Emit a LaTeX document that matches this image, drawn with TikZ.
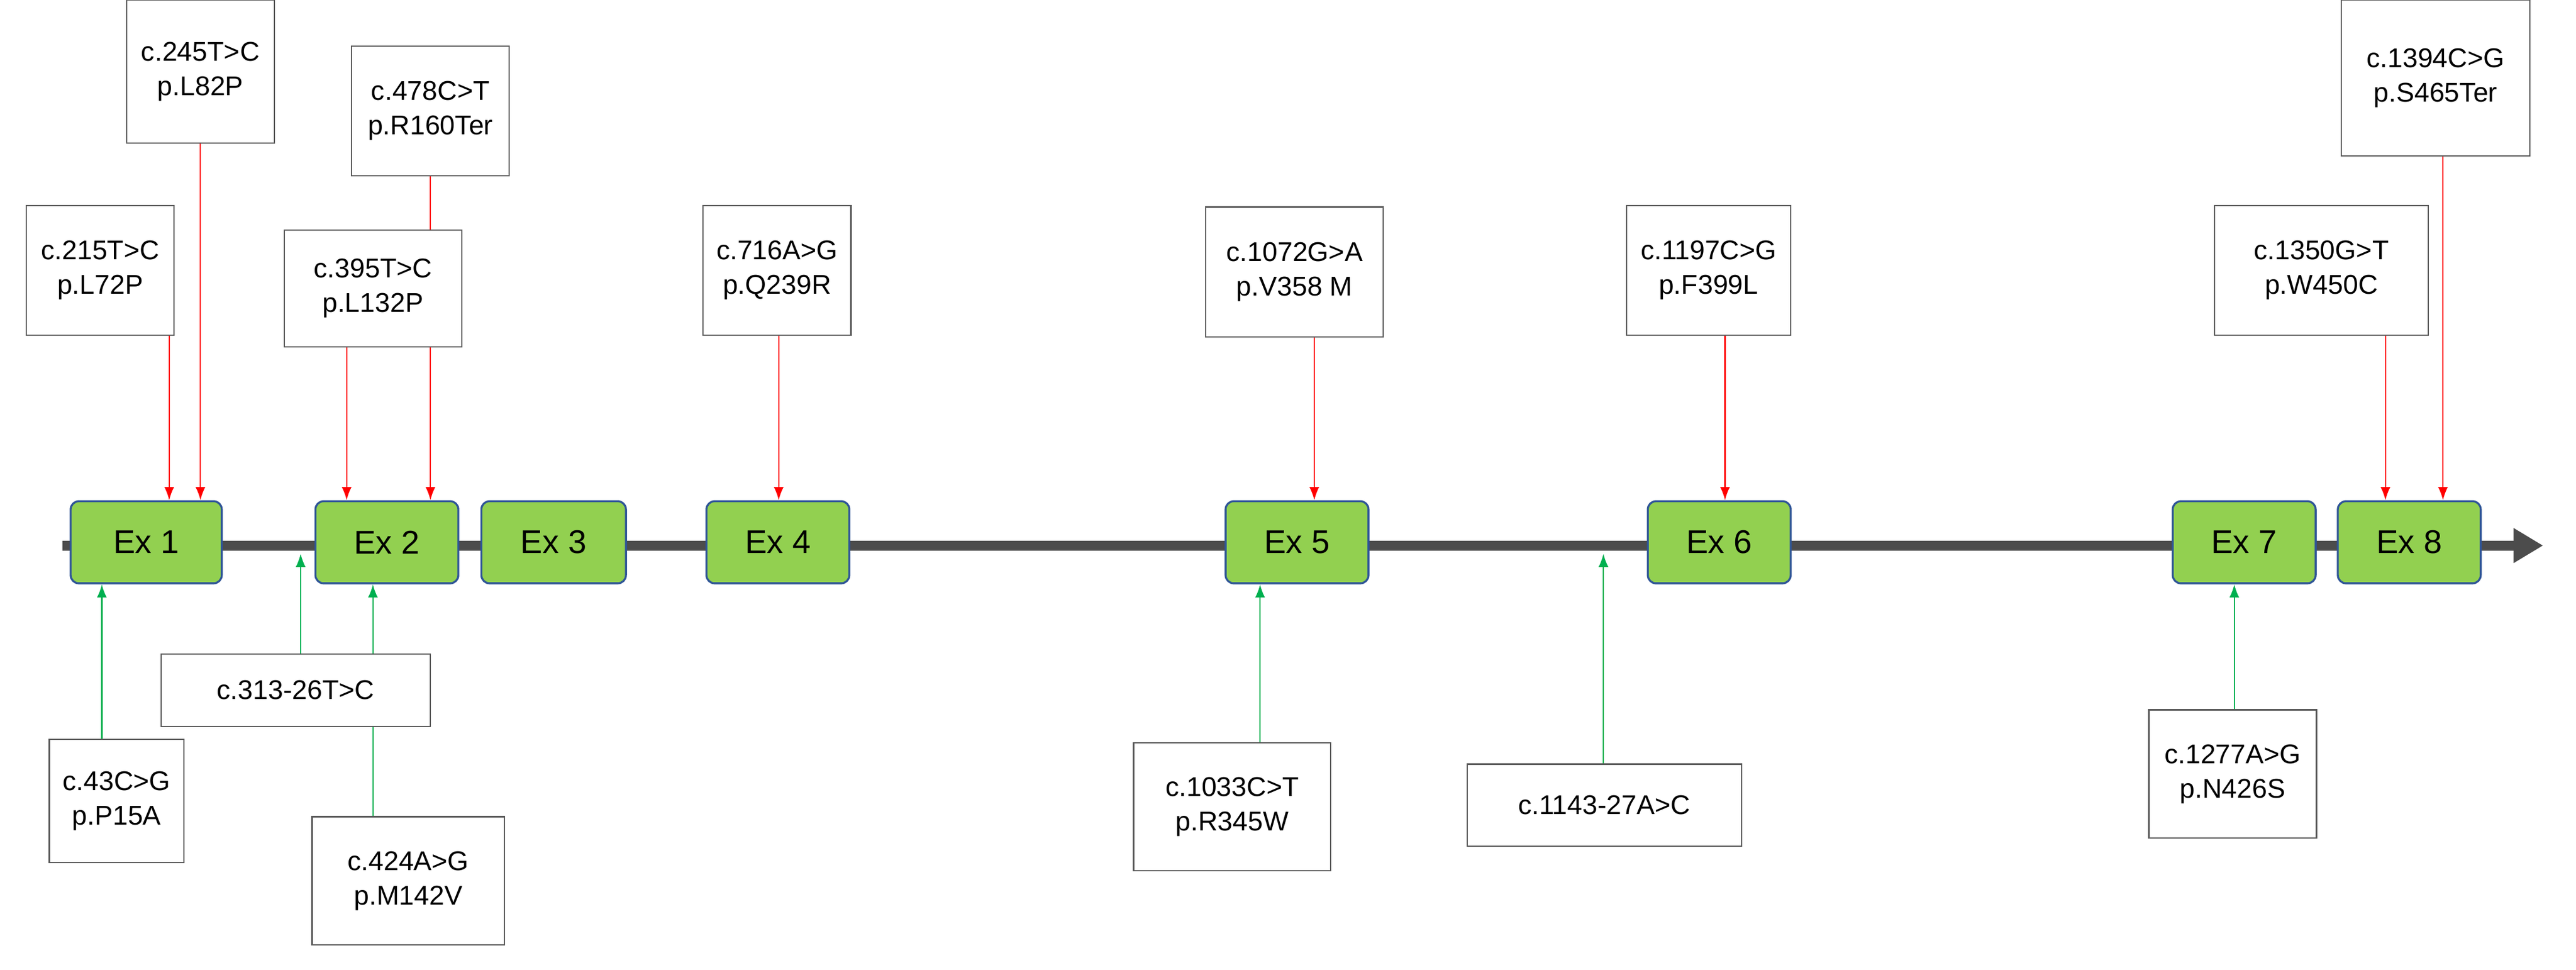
\documentclass[tikz,border=0pt]{standalone}
\usepackage{fontspec}
\setmainfont{Liberation Sans}
\usetikzlibrary{arrows.meta}
\definecolor{exg}{RGB}{146,208,80}
\definecolor{exb}{RGB}{47,85,151}
\definecolor{rl}{RGB}{255,0,0}
\definecolor{gl}{RGB}{0,176,80}
\begin{document}
\begin{tikzpicture}[x=1pt,y=-1pt,
 ex/.style={draw=exb,line width=1.2pt,fill=exg,rounded corners=5pt,minimum width=88pt,minimum height=50pt,font=\fontsize{20}{22}\selectfont,inner sep=0pt},
 lab/.style={draw=gray!70!black,line width=0.8pt,fill=white,align=center,font=\fontsize{16.5}{21}\selectfont,inner sep=0pt},
 ra/.style={draw=rl,line width=0.8pt,-{Latex[length=8pt,width=6pt]}},
 ga/.style={draw=gl,line width=0.8pt,-{Latex[length=8pt,width=6pt]}}]
\useasboundingbox (0,0) rectangle (1568,590);
\coordinate (bs) at (38,332);
\coordinate (be) at (1548,332);
\draw[line width=6pt,draw=black!70,-{Triangle[length=18pt,width=20pt]}] (bs) -- (be);
% exons
\node[ex,minimum width=92pt] (e1) at (89,330) {Ex 1};
\node[ex,minimum width=87pt] (e2) at (235.5,330) {Ex 2};
\node[ex] (e3) at (337,330) {Ex 3};
\node[ex,minimum width=87pt] (e4) at (473.5,330) {Ex 4};
\node[ex,minimum width=87pt] (e5) at (789.5,330) {Ex 5};
\node[ex,minimum width=87pt] (e6) at (1046.5,330) {Ex 6};
\node[ex,minimum width=87pt] (e7) at (1366,330) {Ex 7};
\node[ex,minimum width=87pt] (e8) at (1466.5,330) {Ex 8};
% connector start points
\coordinate (s215) at (103,204);
\coordinate (s245) at (122,87);
\coordinate (s395) at (211,211);
\coordinate (s478) at (262,107);
\coordinate (s716) at (474,204);
\coordinate (s1072) at (800,205);
\coordinate (s1197) at (1050,204);
\coordinate (s1350) at (1452,204);
\coordinate (s1394) at (1487,95);
% top arrows
\draw[ra] (s215) -- (e1.north -| s215);
\draw[ra] (s245) -- (e1.north -| s245);
\draw[ra] (s395) -- (e2.north -| s395);
\draw[ra] (s478) -- (e2.north -| s478);
\draw[ra] (s716) -- (e4.north -| s716);
\draw[ra] (s1072) -- (e5.north -| s1072);
\draw[ra] (s1197) -- (e6.north -| s1197);
\draw[ra] (s1350) -- (e8.north -| s1350);
\draw[ra] (s1394) -- (e8.north -| s1394);
% bottom arrows
\coordinate (b313) at (183,337);
\coordinate (b1143) at (976,337);
\draw[ga] (62,450) -- (e1.south -| 62,0);
\draw[ga] (183,398) -- (b313);
\draw[ga] (227,497) -- (e2.south -| 227,0);
\draw[ga] (767,452) -- (e5.south -| 767,0);
\draw[ga] (976,465) -- (b1143);
\draw[ga] (1360,432) -- (e7.south -| 1360,0);
% top boxes
\node[lab,minimum width=90pt,minimum height=87pt] (t245) at (122,43.5) {c.245T>C\\p.L82P};
\node[lab,minimum width=96pt,minimum height=79pt] (t478) at (262,67.5) {c.478C>T\\p.R160Ter};
\node[lab,minimum width=90pt,minimum height=79pt] (t215) at (61,164.5) {c.215T>C\\p.L72P};
\node[lab,minimum width=108pt,minimum height=71pt] (t395) at (227,175.5) {c.395T>C\\p.L132P};
\node[lab,minimum width=90pt,minimum height=79pt] (t716) at (473,164.5) {c.716A>G\\p.Q239R};
\node[lab,minimum width=108pt,minimum height=79pt] (t1072) at (788,165.5) {c.1072G>A\\p.V358 M};
\node[lab,minimum width=100pt,minimum height=79pt] (t1197) at (1040,164.5) {c.1197C>G\\p.F399L};
\node[lab,minimum width=130pt,minimum height=79pt] (t1350) at (1413,164.5) {c.1350G>T\\p.W450C};
\node[lab,minimum width=115pt,minimum height=95pt] (t1394) at (1482.5,47.5) {c.1394C>G\\p.S465Ter};
% bottom boxes
\node[lab,minimum width=82pt,minimum height=75pt] (b43n) at (71,487.5) {c.43C>G\\p.P15A};
\node[lab,minimum width=164pt,minimum height=44pt] (b313n) at (180,420) {c.313-26T>C};
\node[lab,minimum width=117pt,minimum height=78pt] (b424n) at (248.5,536) {c.424A>G\\p.M142V};
\node[lab,minimum width=120pt,minimum height=78pt] (b1033n) at (750,491) {c.1033C>T\\p.R345W};
\node[lab,minimum width=167pt,minimum height=50pt] (b1143n) at (976.5,490) {c.1143-27A>C};
\node[lab,minimum width=102pt,minimum height=78pt] (b1277n) at (1359,471) {c.1277A>G\\p.N426S};
\end{tikzpicture}
\end{document}
